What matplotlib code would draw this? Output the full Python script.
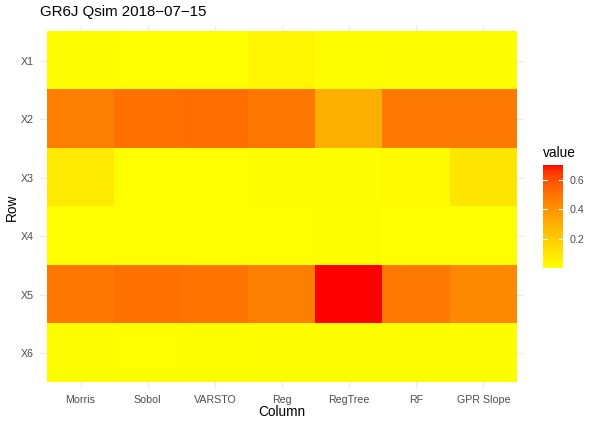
import numpy as np
import matplotlib
matplotlib.use("Agg")
import matplotlib.pyplot as plt
from matplotlib.colors import ListedColormap

plt.rcParams["font.family"] = ["Liberation Sans", "DejaVu Sans"]

# sensitivity indices
columns = ["Morris", "Sobol", "VARSTO", "Reg", "RegTree", "RF", "GPR Slope"]
rows = ["X1", "X2", "X3", "X4", "X5", "X6"]
x1 = [0.010, 0.005, 0.005, 0.040, 0.008, 0.010, 0.010]
x2 = [0.466, 0.506, 0.512, 0.488, 0.298, 0.482, 0.482]
x3 = [0.081, 0.005, 0.005, 0.010, 0.010, 0.015, 0.100]
x4 = [0.005, 0.000, 0.003, 0.005, 0.008, 0.005, 0.005]
x5 = [0.488, 0.506, 0.500, 0.466, 0.700, 0.482, 0.430]
x6 = [0.010, 0.005, 0.008, 0.012, 0.012, 0.010, 0.010]
values = np.array([x1, x2, x3, x4, x5, x6])


# ggplot-like yellow -> red gradient interpolated in Lab space
def srgb_to_lab(rgb):
    c = np.asarray(rgb, dtype=float)
    lin = np.where(c <= 0.04045, c / 12.92, ((c + 0.055) / 1.055) ** 2.4)
    m = np.array([[0.4124, 0.3576, 0.1805],
                  [0.2126, 0.7152, 0.0722],
                  [0.0193, 0.1192, 0.9505]])
    xyz = m @ lin / np.array([0.95047, 1.0, 1.08883])
    f = np.where(xyz > 0.008856, np.cbrt(xyz), 7.787 * xyz + 16 / 116)
    return np.array([116 * f[1] - 16, 500 * (f[0] - f[1]), 200 * (f[1] - f[2])])


def lab_to_srgb(lab):
    L, a, b = lab
    fy = (L + 16) / 116
    fx = fy + a / 500
    fz = fy - b / 200
    f = np.array([fx, fy, fz])
    xyz = np.where(f ** 3 > 0.008856, f ** 3, (f - 16 / 116) / 7.787)
    xyz = xyz * np.array([0.95047, 1.0, 1.08883])
    minv = np.array([[3.2406, -1.5372, -0.4986],
                     [-0.9689, 1.8758, 0.0415],
                     [0.0557, -0.2040, 1.0570]])
    lin = np.clip(minv @ xyz, 0, 1)
    c = np.where(lin <= 0.0031308, 12.92 * lin, 1.055 * lin ** (1 / 2.4) - 0.055)
    return np.clip(c, 0, 1)


lab_lo = srgb_to_lab([1, 1, 0])
lab_hi = srgb_to_lab([1, 0, 0])
cmap = ListedColormap([lab_to_srgb(lab_lo + t * (lab_hi - lab_lo)) for t in np.linspace(0, 1, 256)])

fig = plt.figure(figsize=(5.98, 4.26), dpi=100)
W, H = 598, 426
ax = fig.add_axes([40.3 / W, 1 - 388 / H, (523.7 - 40.3) / W, (388 - 26) / H])

vmin, vmax = values.min(), values.max()
im = ax.imshow(values, cmap=cmap, vmin=vmin, vmax=vmax, aspect="auto",
               extent=(0.5, len(columns) + 0.5, len(rows) + 0.5, 0.5),
               interpolation="nearest", zorder=2)
ax.set_xlim(0.4, len(columns) + 0.6)
ax.set_ylim(len(rows) + 0.6, 0.4)

ax.set_xticks(np.arange(1, len(columns) + 1))
ax.set_xticklabels(columns)
ax.set_yticks(np.arange(1, len(rows) + 1))
ax.set_yticklabels(rows)
ax.grid(True, color="#EBEBEB", linewidth=1.0, zorder=0)
ax.set_axisbelow(True)
for s in ax.spines.values():
    s.set_visible(False)
ax.tick_params(length=0, labelsize=7.7, labelcolor="#4D4D4D", pad=5)

# axis titles and plot title placed in pixel positions
fig.text(282 / W, 1 - 412 / H, "Column", fontsize=9.8, ha="center", va="center")
fig.text(12 / W, 1 - 207 / H, "Row", fontsize=9.8, ha="center", va="center", rotation=90)
fig.text(40 / W, 1 - 12 / H, "GR6J Qsim 2018\u221207\u221215", fontsize=10.8,
         ha="left", va="center")

# colour bar
cax = fig.add_axes([543 / W, 1 - 268 / H, 20 / W, 103 / H])
cb = fig.colorbar(im, cax=cax, ticks=[0.2, 0.4, 0.6])
cb.outline.set_visible(False)
cb.ax.tick_params(length=0, labelsize=7.7, labelcolor="#4D4D4D", pad=5)
for t in [0.2, 0.4, 0.6]:
    cax.plot([0, 0.2], [t, t], color="white", linewidth=0.8, transform=cax.get_yaxis_transform())
    cax.plot([0.8, 1], [t, t], color="white", linewidth=0.8, transform=cax.get_yaxis_transform())
fig.text(543 / W, 1 - 153 / H, "value", fontsize=9.8, ha="left", va="center")

fig.savefig("out.png", dpi=100)
